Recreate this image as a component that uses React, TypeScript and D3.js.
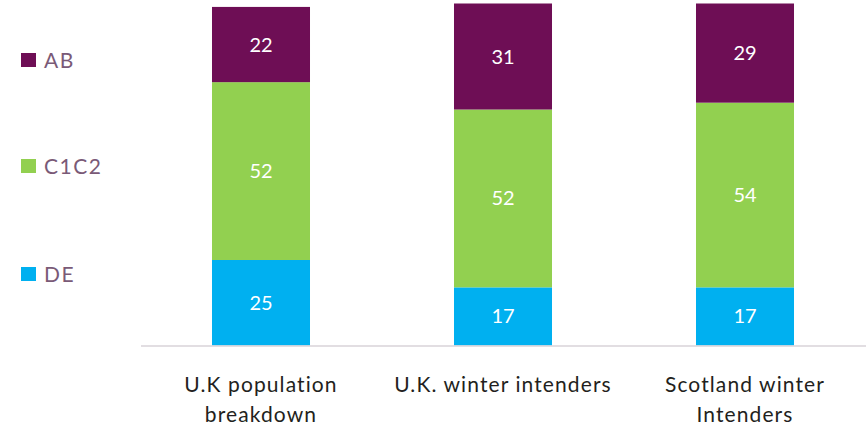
import React, { useEffect, useRef } from 'react';
import * as d3 from 'd3';

const categories = ['U.K population breakdown', 'U.K. winter intenders', 'Scotland winter Intenders'];
const categoryLines = [['U.K population', 'breakdown'], ['U.K. winter intenders'], ['Scotland winter', 'Intenders']];
const seriesNames = ['DE', 'C1C2', 'AB'];
const deValues = [25, 17, 17];
const c1c2Values = [52, 52, 54];
const abValues = [22, 31, 29];
const colors = ['#00b0f0', '#92d050', '#6e0e55'];

const App = () => {
  const ref = useRef<SVGSVGElement>(null);

  useEffect(() => {
    const svg = d3.select(ref.current);
    svg.selectAll('*').remove();
    const font = 'Lato, "Open Sans", sans-serif';

    const rows = categories.map((c, i) => ({ cat: c, DE: deValues[i], C1C2: c1c2Values[i], AB: abValues[i] }));
    const stack = d3.stack<any>().keys(seriesNames)(rows);

    const x = d3.scaleBand().domain(categories).range([140, 866]).paddingInner(0.595).paddingOuter(0.2975);
    const y = d3.scaleLinear().domain([0, 100]).range([345.5, 3.5]);

    const layers = svg.selectAll('g.layer').data(stack).enter().append('g').attr('fill', (d, i) => colors[i]);

    layers.selectAll('rect')
      .data((d) => d)
      .enter()
      .append('rect')
      .attr('x', (d: any) => x(d.data.cat)!)
      .attr('width', x.bandwidth())
      .attr('y', (d) => y(d[1]))
      .attr('height', (d) => y(d[0]) - y(d[1]));

    layers.selectAll('text')
      .data((d) => d)
      .enter()
      .append('text')
      .attr('x', (d: any) => x(d.data.cat)! + x.bandwidth() / 2)
      .attr('y', (d) => (y(d[0]) + y(d[1])) / 2 + 7)
      .attr('text-anchor', 'middle')
      .attr('fill', '#ffffff')
      .style('font-family', font)
      .style('font-size', '20px')
      .text((d) => d[1] - d[0]);

    // axis line
    svg.append('line')
      .attr('x1', 141).attr('x2', 866)
      .attr('y1', y(0) + 0.5).attr('y2', y(0) + 0.5)
      .attr('stroke', '#d9d3d9').attr('stroke-width', 1.5);

    // category labels
    categories.forEach((c, i) => {
      const t = svg.append('text')
        .attr('x', x(c)! + x.bandwidth() / 2)
        .attr('text-anchor', 'middle')
        .attr('fill', '#231f20')
        .style('font-family', font)
        .style('letter-spacing', '1.1px')
        .style('font-size', '21px');
      categoryLines[i].forEach((line, j) => {
        t.append('tspan').attr('x', x(c)! + x.bandwidth() / 2).attr('y', 392 + j * 30).text(line);
      });
    });

    // legend
    const legendItems = ['AB', 'C1C2', 'DE'];
    const legendY = [60, 166, 274];
    legendItems.forEach((name, i) => {
      const g = svg.append('g');
      g.append('rect')
        .attr('x', 21).attr('y', legendY[i] - 7)
        .attr('width', 15).attr('height', 14)
        .attr('fill', colors[seriesNames.indexOf(name)]);
      g.append('text')
        .attr('x', 44).attr('y', legendY[i] + 8)
        .attr('fill', '#7a5a77')
        .style('font-family', font)
        .style('letter-spacing', '1.5px')
        .style('font-size', '21px')
        .text(name);
    });
  }, []);

  return (
    <svg ref={ref} width={868} height={426} style={{ position: 'absolute', left: 0, top: 0 }} />
  );
};

export default App;
